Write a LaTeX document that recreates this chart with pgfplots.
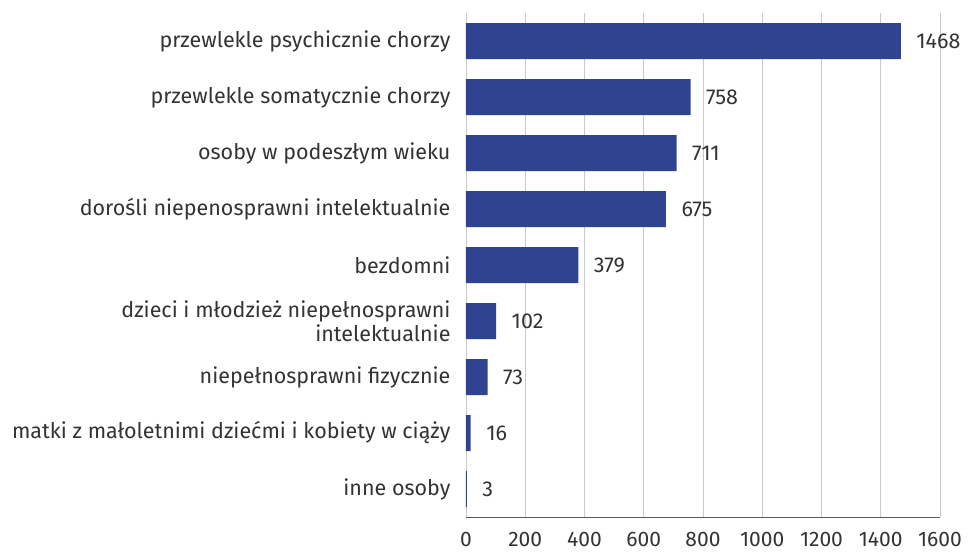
\documentclass[border=0pt]{standalone}
\usepackage{fontspec}
\setmainfont{Fira Sans}
\usepackage{pgfplots}
\pgfplotsset{compat=1.18}
\definecolor{barblue}{HTML}{2F4391}
\definecolor{txt}{HTML}{333333}
\definecolor{grid}{HTML}{C9C9C9}
\begin{document}
\begin{tikzpicture}[font=\fontsize{21.5}{24}\selectfont, text=txt]
\begin{axis}[
    scale only axis,
    width=474pt, height=504pt,
    xbar, bar width=36pt,
    xmin=0, xmax=1600,
    ymin=-0.5, ymax=8.5,
    y dir=reverse,
    xtick={0,200,...,1600},
    ytick={0,...,8},
    yticklabels={przewlekle psychicznie chorzy, przewlekle somatycznie chorzy, osoby w podeszłym wieku, dorośli niepenosprawni intelektualnie, bezdomni, {dzieci i młodzież niepełnosprawni\\intelektualnie}, niepełnosprawni fizycznie, matki z małoletnimi dziećmi i kobiety w ciąży, inne osoby},
    yticklabel style={align=right, xshift=-12pt, text=txt},
    xticklabel style={yshift=-12pt, text=txt, font=\fontsize{21}{24}\selectfont},
    major tick length=0pt,
    axis x line=bottom, axis y line=left,
    x axis line style={draw=black!65, line width=1pt, -},
    y axis line style={draw=none},
    xmajorgrids, grid style={draw=grid, line width=0.8pt},
    /pgf/number format/assume math mode=true,
    /pgf/number format/1000 sep={},
    nodes near coords,
    nodes near coords style={anchor=west, xshift=12pt, text=txt},
]
\addplot[fill=barblue, draw=none] coordinates {
    (1468,0) (758,1) (711,2) (675,3) (379,4) (102,5) (73,6) (16,7) (3,8)};
\end{axis}
\pgfresetboundingbox
\path[use as bounding box] ([shift={(-466pt,-37pt)}]current axis.south west) rectangle ([shift={(33pt,13pt)}]current axis.north east);
\end{tikzpicture}
\end{document}
